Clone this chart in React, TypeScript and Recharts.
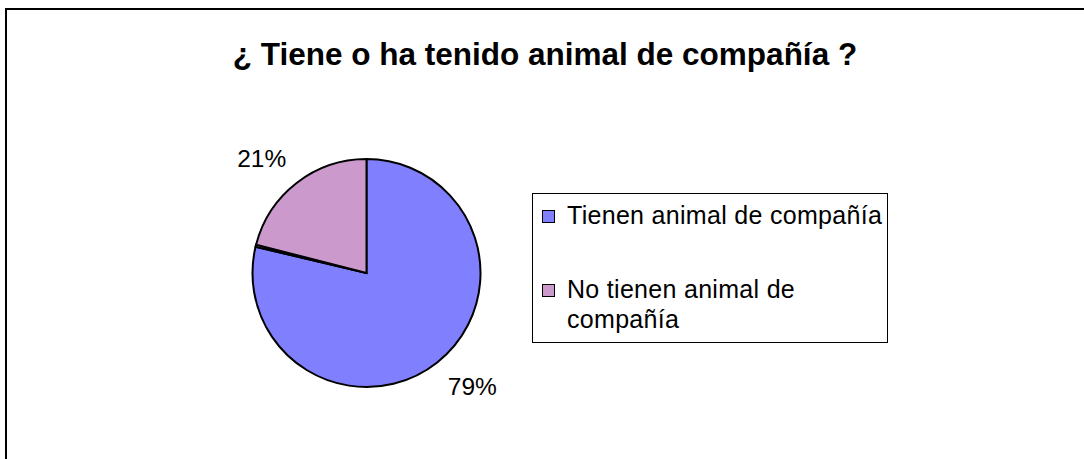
import React from "react";
import { PieChart, Pie, Cell, Legend } from "recharts";

const categories = ["Tienen animal de compañía", "", "No tienen animal de compañía"];
const shares = [78.7, 0.3, 21.0];
const sliceColors = ["#8080FF", "#FFFFFF", "#CC99CC"];
const legendLines = [["Tienen animal de compañía"], ["No tienen animal de", "compañía"]];
const legendColors = ["#8080FF", "#CC99CC"];
const title = "¿ Tiene o ha tenido animal de compañía ?";

const data = categories.map((name, i) => ({ name, value: shares[i] }));

const FONT = "'Liberation Sans', Arial, sans-serif";

const renderLabel = (props: any) => {
  const { cx, cy, midAngle, outerRadius, percent, name } = props;
  if (!name) return null;
  const RAD = Math.PI / 180;
  const r = outerRadius + 17;
  const c = Math.cos(-midAngle * RAD);
  const s = Math.sin(-midAngle * RAD);
  const x = cx + r * c;
  const y = cy + r * s + (s < 0 ? -11 : 11);
  return (
    <text
      x={x}
      y={y}
      textAnchor={c >= 0 ? "start" : "end"}
      dominantBaseline="central"
      fill="#000"
      fontSize={24.5}
      fontFamily={FONT}
    >
      {`${Math.round(percent * 100)}%`}
    </text>
  );
};

const LegendBox = () => (
  <div
    style={{
      width: 356,
      height: 150,
      border: "1px solid #000",
      boxSizing: "border-box",
      fontFamily: FONT,
      fontSize: 25,
      letterSpacing: 0.3,
      color: "#000",
      padding: "6px 0 0 9px",
      background: "#fff",
    }}
  >
    {legendLines.map((lines, i) => (
      <div key={i} style={{ display: "flex", alignItems: "flex-start", marginBottom: i === 0 ? 44 : 0 }}>
        <div
          style={{
            width: 11,
            height: 11,
            border: "1px solid #000",
            background: legendColors[i],
            marginTop: 9.5,
            marginRight: 12,
            flex: "none",
          }}
        />
        <div style={{ lineHeight: "30px", whiteSpace: "nowrap" }}>
          {lines.map((l, j) => (
            <div key={j}>{l}</div>
          ))}
        </div>
      </div>
    ))}
  </div>
);

export default function App() {
  return (
    <div style={{ position: "absolute", left: 0, top: 0, width: 1084, height: 459, overflow: "hidden", background: "#fff" }}>
      <svg width={1084} height={459} style={{ position: "absolute", left: 0, top: 0 }}>
        <rect x={6} y={9} width={1200} height={600} fill="none" stroke="#000" strokeWidth={2} />
      </svg>
      <div
        style={{
          position: "absolute",
          left: 0,
          top: 36,
          width: 1090,
          textAlign: "center",
          fontFamily: FONT,
          fontWeight: "bold",
          fontSize: 31.5,
          color: "#000",
          whiteSpace: "nowrap",
        }}
      >
        {title}
      </div>
      <div style={{ position: "absolute", left: 0, top: 0 }}>
        <PieChart width={1084} height={459} margin={{ top: 0, right: 0, bottom: 0, left: 0 }}>
          <Pie
            data={data}
            dataKey="value"
            nameKey="name"
            cx={366.5}
            cy={273}
            outerRadius={114}
            startAngle={90}
            endAngle={-270}
            stroke="#000"
            strokeWidth={2}
            label={renderLabel}
            labelLine={false}
            isAnimationActive={false}
          >
            {data.map((d, i) => (
              <Cell key={i} fill={sliceColors[i]} />
            ))}
          </Pie>
          <Legend
            content={() => <LegendBox />}
            wrapperStyle={{ position: "absolute", left: 532, top: 193, width: 356, height: 150 }}
          />
        </PieChart>
      </div>
    </div>
  );
}
